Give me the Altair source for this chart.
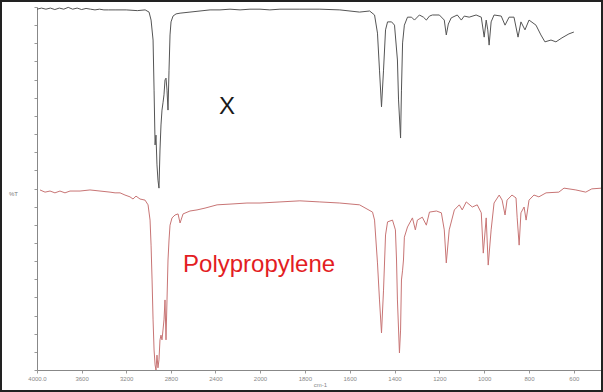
import altair as alt
import pandas as pd

# Sample "X" spectrum (wavenumber cm-1, %T)
x_wn = [4000, 3960, 3920, 3880, 3840, 3800, 3760, 3720, 3680, 3640, 3600, 3560, 3520, 3480,
        3440, 3400, 3360, 3300, 3200, 3100, 3030, 2995, 2977, 2959, 2950, 2941, 2933, 2924,
        2915, 2906, 2897, 2888, 2879, 2870, 2861, 2852, 2843, 2834, 2825, 2816, 2807, 2798,
        2780, 2753, 2717, 2628, 2538, 2448, 2359, 2269, 2179, 2090, 2000, 1956, 1911, 1822,
        1733, 1644, 1556, 1511, 1489, 1476, 1467, 1458, 1449, 1440, 1431, 1413, 1400, 1387,
        1382, 1373, 1369, 1364, 1356, 1342, 1324, 1311, 1289, 1271, 1258, 1244, 1231, 1200,
        1178, 1169, 1160, 1147, 1120, 1102, 1089, 1067, 1036, 1013, 1000, 991, 984, 978, 969,
        956, 924, 907, 889, 867, 849, 836, 818, 800, 769, 747, 729, 702, 680, 653, 622, 600]
x_t = [99.4, 99.7, 99.4, 99.7, 99.3, 99.7, 99.4, 99.9, 99.4, 99.7, 99.3, 99.6, 99.4, 99.2,
       99.4, 99.2, 99.2, 99.2, 99.2, 99.0, 99.2, 98.6, 96.4, 90.9, 77.1, 62.0, 64.7, 56.5,
       52.3, 50.1, 60.6, 67.5, 71.6, 73.6, 75.8, 79.9, 80.4, 77.1, 71.6, 82.6, 92.3, 95.9,
       97.5, 98.1, 98.3, 98.6, 98.9, 99.2, 99.2, 99.4, 99.2, 99.4, 99.4, 99.2, 99.4, 99.4,
       99.4, 99.2, 98.6, 98.9, 97.8, 92.8, 82.6, 72.5, 82.6, 93.7, 95.9, 95.9, 95.0, 85.4,
       74.4, 63.9, 77.1, 90.1, 95.0, 97.2, 97.2, 96.4, 97.8, 97.2, 96.4, 97.5, 97.8, 97.8,
       96.4, 92.3, 95.3, 97.0, 97.8, 96.4, 97.5, 97.2, 97.8, 97.2, 91.7, 96.4, 93.7, 89.5, 95.9,
       97.8, 97.5, 95.0, 97.2, 97.2, 91.7, 95.9, 93.7, 96.4, 95.0, 92.3, 90.4, 90.9, 90.4, 91.5,
       92.6, 93.1]

# Polypropylene reference spectrum (wavenumber cm-1, %T)
pp_wn = [3973, 3928, 3883, 3839, 3794, 3749, 3704, 3614, 3525, 3435, 3345, 3300, 3255, 3211,
         3166, 3139, 3112, 3076, 3031, 3004, 2986, 2977, 2968, 2959, 2950, 2941, 2933, 2924,
         2915, 2906, 2897, 2888, 2879, 2870, 2861, 2852, 2843, 2834, 2825, 2816, 2807, 2789,
         2762, 2735, 2717, 2690, 2628, 2565, 2493, 2385, 2269, 2117, 2000, 1911, 1822, 1733,
         1644, 1556, 1498, 1489, 1476, 1467, 1458, 1449, 1440, 1431, 1409, 1396, 1391, 1387,
         1378, 1373, 1369, 1364, 1360, 1356, 1342, 1320, 1307, 1298, 1276, 1258, 1244, 1213,
         1191, 1178, 1169, 1156, 1133, 1111, 1098, 1080, 1053, 1031, 1013, 1004, 991, 982, 969,
         956, 933, 920, 907, 898, 876, 858, 853, 844, 836, 822, 813, 800, 778, 756, 724, 667,
         644, 591, 547, 520, 475]
pp_t = [49.6, 49.0, 49.3, 48.8, 49.3, 48.8, 49.3, 49.3, 49.6, 49.3, 49.0, 48.8, 48.8, 48.2,
        47.7, 47.1, 47.9, 47.1, 46.8, 45.5, 41.3, 34.4, 24.8, 13.8, 5.5, 1.4, 0.0, 4.1,
        0.6, 2.8, 8.3, 9.6, 8.3, 11.0, 13.8, 19.3, 8.3, 19.3, 30.3, 35.8, 39.9, 41.9,
        42.7, 43.0, 40.5, 43.0, 43.8, 44.1, 44.6, 45.5, 45.7, 46.0, 46.0, 46.3, 46.6, 46.3,
        46.0, 45.5, 43.5, 41.3, 29.5, 19.3, 10.2, 22.0, 37.2, 40.8, 41.3, 38.6, 30.3, 19.3,
        4.7, 11.0, 24.8, 27.5, 30.3, 36.6, 39.4, 41.9, 38.6, 41.3, 42.1, 39.9, 43.5, 43.8,
        43.3, 38.6, 29.5, 38.6, 44.1, 45.5, 44.1, 46.3, 44.9, 45.5, 43.3, 32.2, 41.9, 28.9, 38.6,
        46.0, 48.2, 46.8, 42.7, 46.8, 48.2, 47.4, 42.1, 34.4, 43.3, 44.9, 41.3, 46.8, 48.2, 47.7,
        48.8, 49.0, 50.1, 49.6, 49.0, 49.9, 50.1]

x_ticks = [4000, 3600, 3200, 2800, 2400, 2000, 1800, 1600, 1400, 1200, 1000, 800, 600]
y_ticks = list(range(0, 101, 5))

labels_text = ["X", "Polypropylene"]
labels_wn = [2296, 2690]
labels_t = [72.5, 28.9]

FONT = "Liberation Sans"

df_x = pd.DataFrame({"wn": x_wn, "t": x_t})
df_pp = pd.DataFrame({"wn": pp_wn, "t": pp_t})
lab_df = pd.DataFrame({"text": labels_text, "wn": labels_wn, "t": labels_t})

xscale = alt.Scale(domain=[4000, 2000, 470], range=[0, 223, 566], nice=False, zero=False)
yscale = alt.Scale(domain=[0, 100], nice=False, zero=False)

xaxis = alt.Axis(values=x_ticks, format="d", tickCount=50,
                 labelExpr="datum.value == 4000 ? '4000.0' : datum.label",
                 labelFlush=False, labelOverlap=False,
                 labelFontSize=6, labelColor="#888", labelFont=FONT, labelPadding=2,
                 tickSize=3, tickColor="#999", domainColor="#888", grid=False,
                 title="cm-1", titleFontSize=6, titleFontWeight="normal", titleColor="#888",
                 titleFont=FONT, titlePadding=0)
yaxis = alt.Axis(values=y_ticks, tickCount=50, labels=False, tickSize=3, tickColor="#999",
                 domainColor="#888", grid=False, title="%T", titleAngle=0,
                 titleX=-24, titleY=186, titleAlign="center", titleBaseline="middle",
                 titleFontSize=6, titleFontWeight="normal", titleColor="#777", titleFont=FONT)

X = alt.X("wn:Q", scale=xscale, axis=xaxis)
Y = alt.Y("t:Q", scale=yscale, axis=yaxis)

line_x = alt.Chart(df_x).mark_line(color="#555555", strokeWidth=1).encode(x=X, y=Y)
line_pp = alt.Chart(df_pp).mark_line(color="#c87575", strokeWidth=1).encode(x=X, y=Y)

lab_x = alt.Chart(lab_df.iloc[[0]]).mark_text(font=FONT, fontSize=24, align="center",
                                               baseline="middle", color="#1a1a1a").encode(
    x=X, y=Y, text="text:N")
lab_pp = alt.Chart(lab_df.iloc[[1]]).mark_text(font=FONT, fontSize=24, align="left",
                                                baseline="middle", color="#e31d23").encode(
    x=X, y=Y, text="text:N")

frame = alt.Chart(pd.DataFrame({"a": [0]})).mark_rect(
    fillOpacity=0, stroke="#222", strokeWidth=2).encode(
    x=alt.value(-36), x2=alt.value(565), y=alt.value(-6), y2=alt.value(384))

chart = alt.layer(line_x, line_pp, lab_x, lab_pp, frame).properties(
    width=566, height=363,
    autosize=alt.AutoSizeParams(type="none"),
    padding={"left": 37, "top": 7, "right": 0, "bottom": 22},
    background="white",
).configure_view(stroke=None)

chart.save("out.html", embed_options={"renderer": "svg", "actions": False})
